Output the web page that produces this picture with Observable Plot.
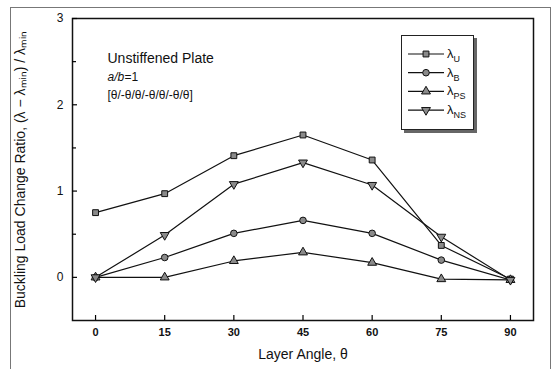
<!DOCTYPE html>
<html><head><meta charset="utf-8">
<script src="https://cdn.jsdelivr.net/npm/d3@7"></script>
<script src="https://cdn.jsdelivr.net/npm/@observablehq/plot@0.6"></script>
<style>
body{margin:0;background:#fff;}
#wrap{position:relative;width:553px;height:369px;overflow:hidden;font-family:"Liberation Sans",Arial,sans-serif;}
#border{position:absolute;left:10px;top:7px;width:539px;height:380px;border:1px solid #777;}
#chart{position:absolute;left:0;top:0;}
#legend{position:absolute;left:401px;top:35px;width:71px;height:93px;border:1px solid #222;box-shadow:3px 3px 0 #666;background:#fff;}
#legend svg{position:absolute;left:0;top:0;}
</style></head><body>
<div id="wrap"><div id="border"></div><div id="chart"></div><div id="legend"></div></div>
<script>
// ---- data ----
const angles = [0, 15, 30, 45, 60, 75, 90];
const lambdaU  = [0.75, 0.97, 1.41, 1.65, 1.36, 0.37, -0.02];
const lambdaB  = [0.00, 0.23, 0.51, 0.66, 0.51, 0.20, -0.03];
const lambdaPS = [0.00, 0.00, 0.19, 0.29, 0.17, -0.02, -0.03];
const lambdaNS = [0.00, 0.49, 1.08, 1.33, 1.07, 0.47, -0.03];
const seriesKeys = ["U", "B", "PS", "NS"];
const xTicks = [0, 15, 30, 45, 60, 75, 90];
const yTicks = [0, 1, 2, 3];
const yMinorTicks = [0.5, 1.5, 2.5];
const yLabel = "Buckling Load Change Ratio, (λ − λₘᵢₙ) / λₘᵢₙ";
const xLabel = "Layer Angle, θ";
const noteLines = ["Unstiffened Plate", "[θ/-θ/θ/-θ/θ/-θ/θ]"];

const triangleDown = {
  draw(context, size) {
    const y = -Math.sqrt(size / (Math.sqrt(3) * 3));
    context.moveTo(0, -y * 2);
    context.lineTo(-Math.sqrt(3) * y, y);
    context.lineTo(Math.sqrt(3) * y, y);
    context.closePath();
  }
};
const symbols = [d3.symbolSquare, d3.symbolCircle, d3.symbolTriangle, triangleDown];

const seriesValues = [lambdaU, lambdaB, lambdaPS, lambdaNS];
const rows = [];
seriesKeys.forEach((k, i) => angles.forEach((a, j) => rows.push({series: k, angle: a, value: seriesValues[i][j]})));

const font = "Liberation Sans, Arial, sans-serif";
const plot = Plot.plot({
  width: 553, height: 369,
  marginLeft: 72, marginRight: 20, marginTop: 18, marginBottom: 49,
  style: {fontFamily: font, background: "transparent"},
  x: {domain: [-5, 95]},
  y: {domain: [-0.5, 3]},
  symbol: {domain: seriesKeys, range: symbols},
  marks: [
    Plot.frame({stroke: "#111", strokeWidth: 1.5}),
    Plot.axisX({ticks: xTicks, tickSize: -5, tickFormat: () => "", label: null, strokeWidth: 1.2}),
    Plot.axisX({ticks: xTicks, tickSize: 0, tickPadding: 8, label: null, fontSize: 11, fontWeight: "bold", fill: "#111"}),
    Plot.axisY({ticks: yTicks, tickSize: -5, tickFormat: () => "", label: null, strokeWidth: 1.2}),
    Plot.axisY({ticks: yMinorTicks, tickSize: -4, tickFormat: () => "", label: null, strokeWidth: 1.2}),
    Plot.axisY({ticks: yTicks, tickSize: 0, tickPadding: 9, tickFormat: d3.format("d"), label: null, fontSize: 12, fill: "#111"}),
    Plot.line(rows, {x: "angle", y: "value", z: "series", stroke: "#111", strokeWidth: 1.2}),
    Plot.dot(rows, {x: "angle", y: "value", symbol: "series", r: 3.3, fill: "#8a8a8a", stroke: "#111", strokeWidth: 1}),
    Plot.text([yLabel], {frameAnchor: "left", textAnchor: "middle", rotate: -90, dx: -52, fontSize: 14, fill: "#111"}),
    Plot.text([xLabel], {frameAnchor: "bottom", dy: 38, fontSize: 14, fill: "#111"}),
    Plot.text([noteLines[0]], {frameAnchor: "top-left", textAnchor: "start", lineAnchor: "middle", dx: 35, dy: 40, fontSize: 14, fill: "#111"}),
    Plot.text(["a/b"], {frameAnchor: "top-left", textAnchor: "start", lineAnchor: "middle", dx: 35, dy: 59, fontSize: 12, fontStyle: "italic", fill: "#111"}),
    Plot.text(["=1"], {frameAnchor: "top-left", textAnchor: "start", lineAnchor: "middle", dx: 52, dy: 59, fontSize: 12, fill: "#111"}),
    Plot.text([noteLines[1]], {frameAnchor: "top-left", textAnchor: "start", lineAnchor: "middle", dx: 35, dy: 77, fontSize: 12, fill: "#111"})
  ]
});
document.getElementById("chart").append(plot);

// ---- legend ----
const leg = d3.select("#legend").append("svg").attr("width", 71).attr("height", 93);
seriesKeys.forEach((k, i) => {
  const y = 18 + i * 18.7;
  const g = leg.append("g").attr("transform", `translate(0,${y})`);
  g.append("line").attr("x1", 6).attr("x2", 42).attr("stroke", "#111").attr("stroke-width", 1.2);
  g.append("path").attr("transform", "translate(24,0)")
    .attr("d", d3.symbol(symbols[i], 3.3 * 3.3 * Math.PI)())
    .attr("fill", "#8a8a8a").attr("stroke", "#111");
  const t = g.append("text").attr("x", 45).attr("y", 4).attr("font-family", font).attr("font-size", 13).attr("fill", "#111");
  t.append("tspan").text("λ");
  t.append("tspan").attr("dy", 4).attr("font-size", 9).text(k);
});
</script>
</body></html>
